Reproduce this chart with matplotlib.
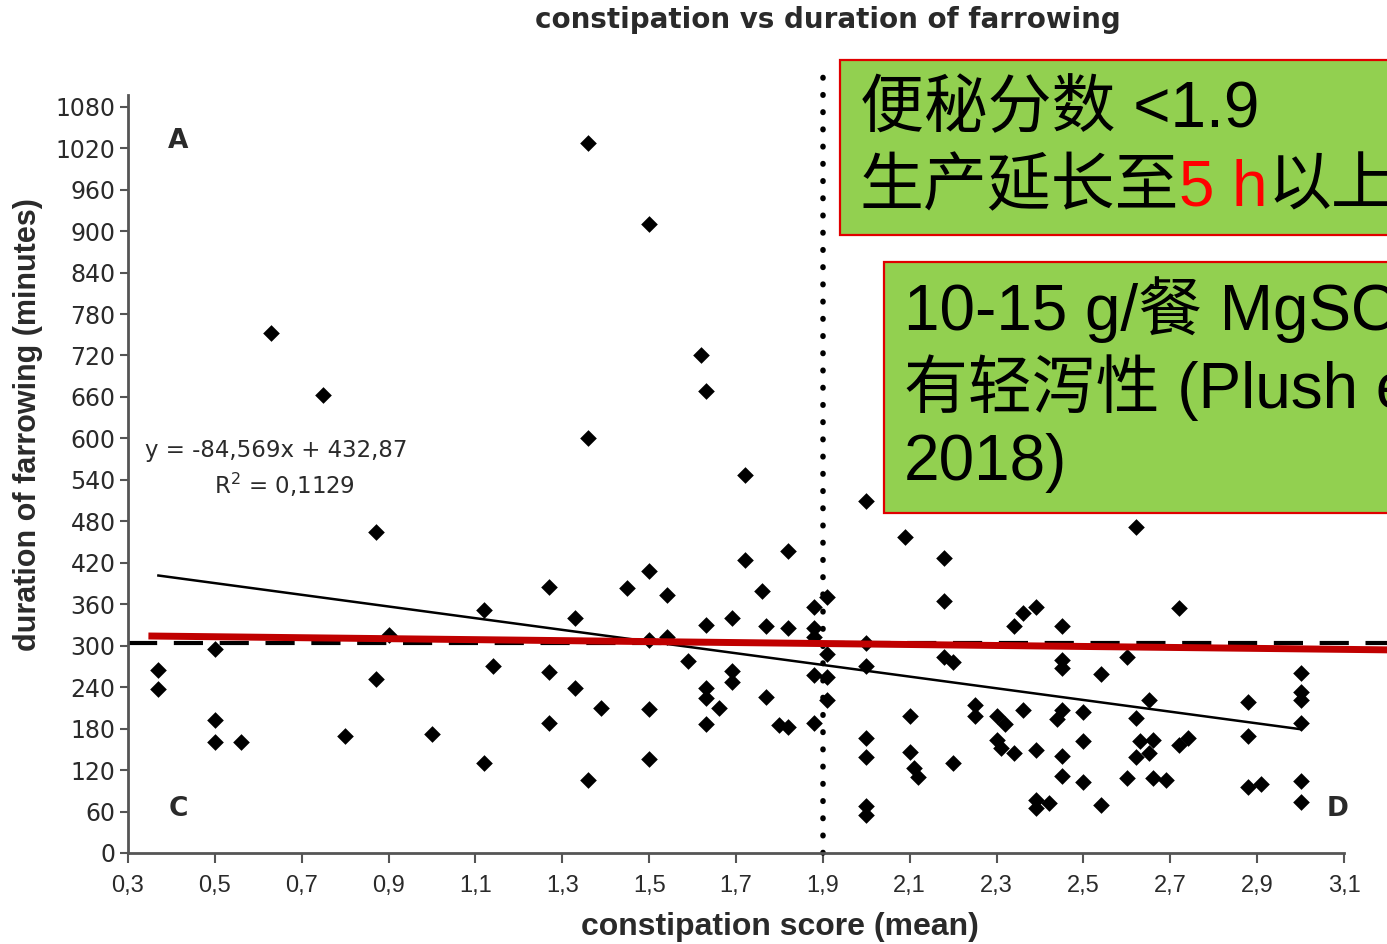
import matplotlib
matplotlib.use("Agg")
import matplotlib.pyplot as plt
from matplotlib.patches import Rectangle
import numpy as np

# ---- data ----
score = [0.37, 0.37, 0.50, 0.50, 0.50, 0.56, 0.63, 0.75, 0.80, 0.87, 0.87, 0.90, 1.00,
         1.12, 1.14, 1.12, 1.27, 1.27, 1.27, 1.33, 1.33, 1.36, 1.36, 1.36, 1.39, 1.45,
         1.50, 1.50, 1.50, 1.50, 1.50, 1.54, 1.54, 1.59, 1.62, 1.63, 1.63, 1.63, 1.63,
         1.63, 1.66, 1.69, 1.69, 1.69, 1.72, 1.72, 1.76, 1.77, 1.77, 1.80, 1.82, 1.82,
         1.82, 1.88, 1.88, 1.88, 1.88, 1.88, 1.91, 1.91, 1.91, 1.91, 2.00, 2.00, 2.00,
         2.00, 2.00, 2.00, 2.00, 2.09, 2.10, 2.10, 2.11, 2.12, 2.18, 2.18, 2.18, 2.20,
         2.20, 2.25, 2.25, 2.30, 2.32, 2.30, 2.31, 2.34, 2.34, 2.36, 2.39, 2.36, 2.39,
         2.39, 2.39, 2.42, 2.45, 2.45, 2.45, 2.44, 2.45, 2.45, 2.45, 2.50, 2.50, 2.50,
         2.54, 2.54, 2.60, 2.60, 2.62, 2.62, 2.62, 2.65, 2.63, 2.65, 2.66, 2.66, 2.69,
         2.72, 2.72, 2.74, 2.88, 2.88, 2.88, 2.91, 3.00, 3.00, 3.00, 3.00, 3.00, 3.00]
duration = [265, 238, 295, 193, 161, 161, 753, 663, 170, 465, 252, 316, 172,
            352, 271, 130, 385, 262, 188, 340, 239, 1028, 600, 106, 210, 384,
            911, 408, 308, 208, 136, 373, 313, 278, 721, 669, 330, 239, 224,
            187, 210, 340, 263, 248, 547, 424, 379, 226, 329, 185, 437, 183,
            326, 356, 326, 313, 258, 188, 371, 288, 255, 222, 510, 304, 271,
            166, 139, 68, 55, 457, 198, 146, 123, 110, 427, 365, 284, 276,
            130, 214, 198, 198, 187, 164, 152, 145, 329, 347, 356, 207, 149,
            77, 65, 72, 329, 279, 268, 194, 207, 140, 111, 204, 162, 103,
            259, 69, 284, 108, 472, 195, 139, 222, 162, 145, 164, 108, 106,
            355, 156, 166, 219, 169, 96, 100, 261, 233, 221, 188, 104, 74]
slope, intercept = -84.569, 432.87
fit_x = [0.37, 3.00]
threshold_x = 1.9
threshold_y = 304
red_x = [0.355, 3.2]
red_y = [314, 294]
xticks = [0.3, 0.5, 0.7, 0.9, 1.1, 1.3, 1.5, 1.7, 1.9, 2.1, 2.3, 2.5, 2.7, 2.9, 3.1]
xtick_labels = ["0,3", "0,5", "0,7", "0,9", "1,1", "1,3", "1,5", "1,7", "1,9", "2,1",
                "2,3", "2,5", "2,7", "2,9", "3,1"]
yticks = list(range(0, 1081, 60))

W, H = 1387, 944
fig = plt.figure(figsize=(W / 100, H / 100), dpi=100)
fig.patch.set_facecolor("white")

def fx(px):
    return px / W

def fy(py):
    return 1 - py / H

narrow = ["Liberation Sans Narrow", "Liberation Sans"]

ax = fig.add_axes([fx(128), fy(853), fx(1344) - fx(128), fy(95) - fy(853)])
ax.set_xlim(0.3, 3.1)
ax.set_ylim(0, 1097)
for s in ["top", "right"]:
    ax.spines[s].set_visible(False)
for s in ["left", "bottom"]:
    ax.spines[s].set_color("#555555")
    ax.spines[s].set_linewidth(2)
ax.set_facecolor("none")

txtc = "#2a2a2a"
ax.set_yticks(yticks)
ax.set_yticklabels([str(v) for v in yticks], fontsize=17, color=txtc,
                   family="DejaVu Sans")
ax.set_xticks(xticks)
ax.set_xticklabels(xtick_labels, fontsize=17, color=txtc, family=narrow)
ax.tick_params(axis="y", length=6, width=1.5, color="#555555", pad=3)
ax.tick_params(axis="x", length=7, width=1.5, color="#555555", pad=9)

# dashed horizontal line and dotted vertical line
ax.plot([0.3, 3.2], [threshold_y, threshold_y], color="black", lw=3,
        linestyle=(0, (7, 4)), clip_on=False, zorder=2)
ax.plot([threshold_x, threshold_x], [0, 1145], color="black", lw=4,
        linestyle=(0, (0.1, 3)), dash_capstyle="round", clip_on=False, zorder=2)

# regression line
fit_x = np.array(fit_x)
ax.plot(fit_x, slope * fit_x + intercept, color="black", lw=1.8, zorder=3)

# scatter
ax.scatter(score, duration, marker="D", s=72, color="black", zorder=4,
           clip_on=False, linewidths=0)

# red line
ax.plot(red_x, red_y, color="#C00000", lw=5, clip_on=False, zorder=5)

# equation
ax.text(0.34, 583, "y = -84,569x + 432,87", fontsize=16.5, color=txtc,
        family="DejaVu Sans", va="center", ha="left")
ax.text(0.66, 533, "R$^{2}$ = 0,1129", fontsize=16.5, color=txtc,
        family="DejaVu Sans", va="center", ha="center")

# quadrant letters
for lab, xx, yy in [("A", 0.415, 1030), ("C", 0.415, 64), ("D", 3.085, 64)]:
    ax.text(xx, yy, lab, fontsize=19, fontweight="bold", color=txtc,
            family="DejaVu Sans", ha="center", va="center")

# axis labels and title
fig.text(fx(28), fy(425), "duration of farrowing (minutes)", rotation=90,
         fontsize=22, fontweight="bold", color=txtc, family=narrow,
         ha="center", va="center")
fig.text(fx(780), fy(927), "constipation score (mean)", fontsize=23,
         fontweight="bold", color=txtc, family=narrow,
         ha="center", va="center")
fig.text(fx(828), fy(20), "constipation vs duration of farrowing", fontsize=20,
         fontweight="bold", color=txtc, family="DejaVu Sans",
         ha="center", va="center")

# green boxes
green = "#92D050"
for (x0, y0, y1) in [(840, 60, 235), (884, 262, 513)]:
    fig.patches.append(Rectangle((fx(x0), fy(y1)), fx(W + 20) - fx(x0),
                                 fy(y0) - fy(y1), transform=fig.transFigure,
                                 facecolor=green, edgecolor="#E00000", lw=1.6,
                                 zorder=10))

fam = ["Liberation Sans", "Noto Sans CJK SC"]
fs = 46
fig.text(fx(860), fy(110), "便秘分数 <1.9", fontsize=fs, family=fam,
         color="black", ha="left", va="center", zorder=11)
t1 = fig.text(fx(860), fy(188), "生产延长至", fontsize=fs, family=fam,
              color="black", ha="left", va="center", zorder=11)
fig.canvas.draw()
r = fig.canvas.get_renderer()
bb = t1.get_window_extent(r)
t2 = fig.text(bb.x1 / W, fy(188), "5 h", fontsize=fs, family=fam,
              color="#FF0000", ha="left", va="center", zorder=11)
bb2 = t2.get_window_extent(r)
fig.text(bb2.x1 / W, fy(188), "以上", fontsize=fs, family=fam,
         color="black", ha="left", va="center", zorder=11)

fig.text(fx(904), fy(310), "10-15 g/餐 MgSO4", fontsize=fs, family=fam,
         color="black", ha="left", va="center", zorder=11)
fig.text(fx(904), fy(388), "有轻泻性 (Plush et al.,", fontsize=fs, family=fam,
         color="black", ha="left", va="center", zorder=11)
fig.text(fx(904), fy(463), "2018)", fontsize=fs, family=fam,
         color="black", ha="left", va="center", zorder=11)

fig.savefig("out.png", dpi=100, facecolor="white")
